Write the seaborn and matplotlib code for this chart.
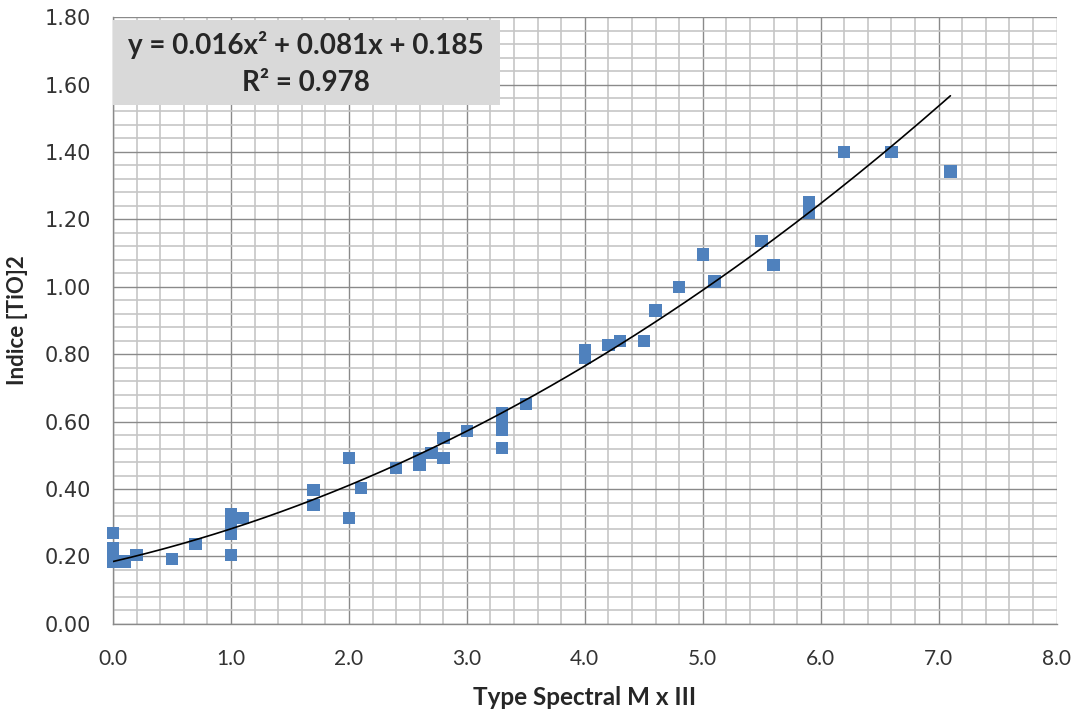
'''TiO2 index vs spectral type, quadratic trendline'''
import numpy as np
import pandas as pd
import seaborn as sns
import matplotlib.pyplot as plt
import matplotlib.patches as mpatches
from matplotlib.ticker import MultipleLocator

# values
spectral_type = [0.0, 0.0, 0.0, 0.0, 0.0, 0.1, 0.2, 0.5, 0.7,
                 1.0, 1.0, 1.0, 1.0, 1.1, 1.7, 1.7, 2.0, 2.0, 2.1,
                 2.4, 2.6, 2.6, 2.7, 2.8, 2.8, 3.0, 3.3, 3.3, 3.3, 3.3,
                 3.5, 4.0, 4.0, 4.2, 4.3, 4.5, 4.6, 4.8, 5.0, 5.1,
                 5.5, 5.6, 5.9, 5.9, 6.2, 6.6, 7.1]
tio2_index = [0.27, 0.225, 0.21, 0.19, 0.185, 0.185, 0.205, 0.193, 0.237,
              0.326, 0.29, 0.267, 0.204, 0.314, 0.397, 0.353, 0.492, 0.314, 0.403,
              0.462, 0.492, 0.471, 0.507, 0.551, 0.492, 0.572, 0.625, 0.599, 0.575, 0.521,
              0.652, 0.812, 0.788, 0.827, 0.839, 0.839, 0.93, 1.0, 1.096, 1.016,
              1.135, 1.064, 1.25, 1.22, 1.40, 1.40, 1.342]
fit_coeffs = [0.016, 0.081, 0.185]  # a, b, c of the displayed trendline
r_squared = 0.978
x_ticks = [0, 1, 2, 3, 4, 5, 6, 7, 8]
y_ticks = [0.0, 0.2, 0.4, 0.6, 0.8, 1.0, 1.2, 1.4, 1.6, 1.8]

df = pd.DataFrame({'spectral': spectral_type, 'tio2': tio2_index})
x_fit = np.linspace(0, max(spectral_type), 200)
df_fit = pd.DataFrame({'spectral': x_fit, 'tio2': np.polyval(fit_coeffs, x_fit)})

sns.set_style('white')
plt.rcParams['font.family'] = ['Lato', 'DejaVu Sans']

fig = plt.figure(figsize=(10.77, 7.13), dpi=100)
ax = fig.add_axes([0.105, 0.125, 0.876, 0.851])

ax.set_xlim(0, 8)
ax.set_ylim(0, 1.8)
ax.set_xticks(x_ticks)
ax.set_yticks(y_ticks)
ax.set_xticklabels([f'{v:.1f}' for v in x_ticks])
ax.set_yticklabels([f'{v:.2f}' for v in y_ticks], family='DejaVu Sans')
ax.xaxis.set_minor_locator(MultipleLocator(0.2))
ax.yaxis.set_minor_locator(MultipleLocator(0.04))

ax.set_axisbelow(True)
ax.grid(True, which='major', color='#8a8a8a', linewidth=1.0)
ax.grid(True, which='minor', color='#c6c6c6', linewidth=1.2)

sns.scatterplot(data=df, x='spectral', y='tio2', marker='s', s=80, color='#4f81bd',
                edgecolor='none', ax=ax, clip_on=False, zorder=3)
sns.lineplot(data=df_fit, x='spectral', y='tio2', color='black', linewidth=1.2,
             ax=ax, zorder=4)

for side in ['top', 'right']:
    ax.spines[side].set_visible(False)
for side in ['left', 'bottom']:
    ax.spines[side].set_color('#8a8a8a')
    ax.spines[side].set_linewidth(1.0)

ax.tick_params(which='major', length=6, color='#8a8a8a', width=1.0)
ax.tick_params(which='minor', length=0)
ax.tick_params(axis='y', labelsize=15, pad=10, labelcolor='#333333')
ax.tick_params(axis='x', labelsize=15, pad=12, labelcolor='#333333')

ax.set_xlabel('Type Spectral M x III', fontsize=17.5, fontweight='bold', labelpad=12)
ax.set_ylabel('Indice [TiO]2', fontsize=16, fontweight='bold', labelpad=12)

# equation box in the top left corner
box = mpatches.Rectangle((0.0, 0.855), 0.41, 0.14, transform=ax.transAxes,
                         facecolor='#d9d9d9', edgecolor='none', zorder=5)
ax.add_patch(box)
eq = f'y = {fit_coeffs[0]:.3f}x\u00b2 + {fit_coeffs[1]:.3f}x + {fit_coeffs[2]:.3f}'
ax.text(0.204, 0.954, eq, transform=ax.transAxes, ha='center', va='center',
        fontsize=20, fontweight='bold', zorder=6)
ax.text(0.204, 0.891, f'R\u00b2 = {r_squared:.3f}', transform=ax.transAxes,
        ha='center', va='center', fontsize=20, fontweight='bold', zorder=6)

fig.savefig('out.png', dpi=100)
